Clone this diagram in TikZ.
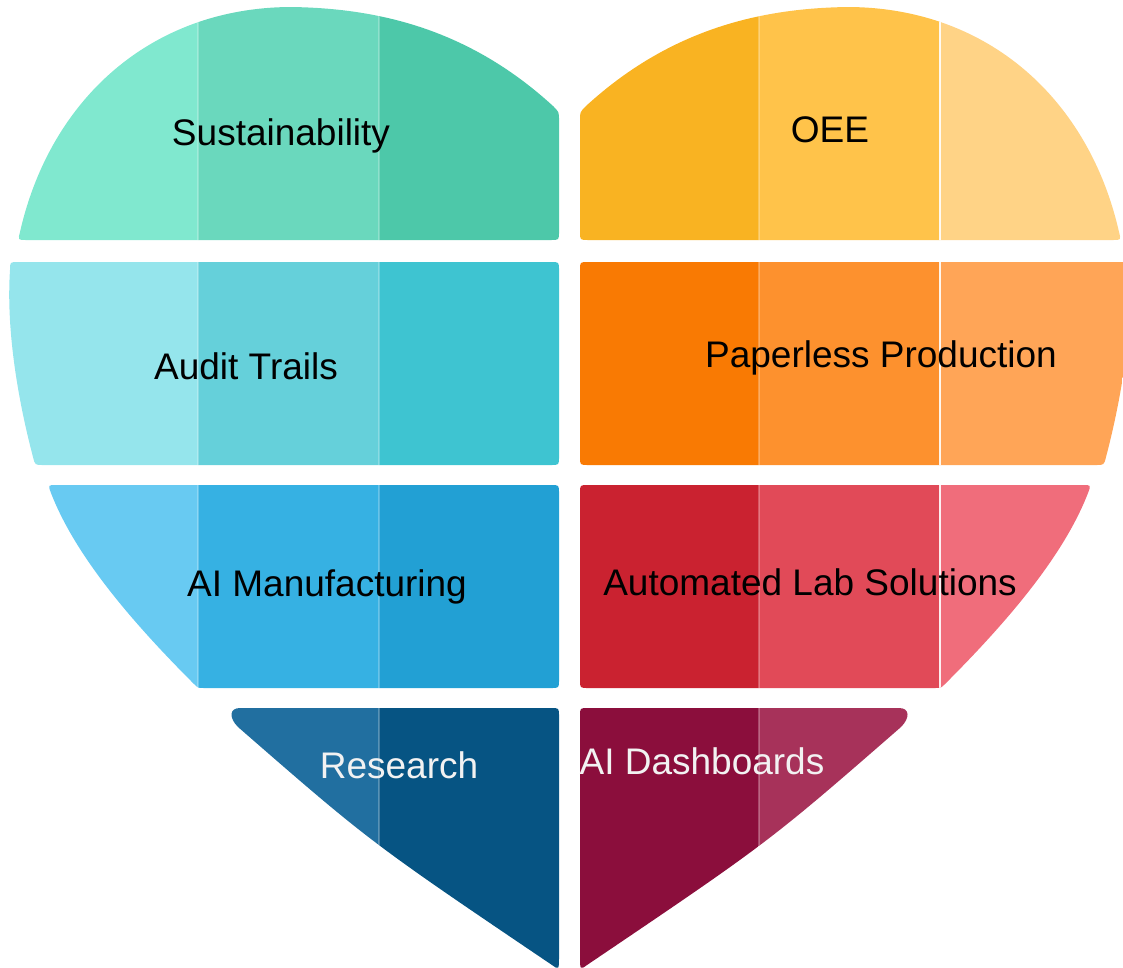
\documentclass[tikz,border=0pt]{standalone}
\usepackage{fontspec}
\setmainfont{Liberation Sans}
\definecolor{tealA}{HTML}{80E8CF}
\definecolor{tealB}{HTML}{6AD8BD}
\definecolor{tealC}{HTML}{4DC8A9}
\definecolor{goldA}{HTML}{F9B322}
\definecolor{goldB}{HTML}{FFC34A}
\definecolor{goldC}{HTML}{FFD386}
\definecolor{cyanA}{HTML}{95E5EC}
\definecolor{cyanB}{HTML}{65D0DA}
\definecolor{cyanC}{HTML}{3EC4D1}
\definecolor{orangeA}{HTML}{F97A03}
\definecolor{orangeB}{HTML}{FD912E}
\definecolor{orangeC}{HTML}{FFA557}
\definecolor{skyA}{HTML}{68CAF2}
\definecolor{skyB}{HTML}{36B1E3}
\definecolor{skyC}{HTML}{22A0D4}
\definecolor{redA}{HTML}{CA2230}
\definecolor{redB}{HTML}{E14A58}
\definecolor{redC}{HTML}{F06D7B}
\definecolor{navyA}{HTML}{216FA0}
\definecolor{navyB}{HTML}{065483}
\definecolor{wineA}{HTML}{8B0E3C}
\definecolor{wineB}{HTML}{A7325A}
\tikzset{
  piece label/.style={font=\fontsize{27.75}{33}\selectfont, anchor=base, inner sep=0pt},
  strip line/.style={white, opacity=0.25, line width=1},
  strip line strong/.style={white, opacity=0.9, line width=1.2},
}
\begin{document}
\begin{tikzpicture}[x=0.75pt, y=-0.75pt]
	\useasboundingbox (0,0) rectangle (1123,967);
	% left lobe, top
	\begin{scope}
		\clip (300,240) -- (551,240) .. controls (559,240) .. (559,232) -- (559,120) .. controls (559,112) .. (553,106)
			.. controls (470,30) and (380,8) .. (290,7) .. controls (150,8) and (50,100) .. (20,232) .. controls (18,240) .. (26,240) -- cycle;
		\fill[tealA] (0,0) rectangle (198,250);
		\fill[tealB] (198,0) rectangle (379,250);
		\fill[tealC] (379,0) rectangle (560,250);
		\draw[strip line] (198,0) -- (198,250) (379,0) -- (379,250);
	\end{scope}
	% right lobe, top
	\begin{scope}
		\clip (839,240) -- (588,240) .. controls (580,240) .. (580,232) -- (580,120) .. controls (580,112) .. (586,106)
			.. controls (669,30) and (759,8) .. (849,7) .. controls (989,8) and (1089,100) .. (1119,232) .. controls (1121,240) .. (1113,240) -- cycle;
		\fill[goldA] (579,0) rectangle (759,250);
		\fill[goldB] (759,0) rectangle (940,250);
		\fill[goldC] (940,0) rectangle (1130,250);
		\draw[strip line] (759,0) -- (759,250);
		\draw[strip line strong] (940,0) -- (940,250);
	\end{scope}
	% second row
	\begin{scope}
		\clip (300,262) -- (551,262) .. controls (559,262) .. (559,270) -- (559,457) .. controls (559,465) .. (551,465) -- (43,465)
			.. controls (35,465) .. (33,457) .. controls (18,400) and (6,330) .. (10,270) .. controls (10,262) .. (18,262) -- cycle;
		\fill[cyanA] (0,255) rectangle (198,470);
		\fill[cyanB] (198,255) rectangle (379,470);
		\fill[cyanC] (379,255) rectangle (560,470);
		\draw[strip line] (198,255) -- (198,470) (379,255) -- (379,470);
	\end{scope}
	\begin{scope}
		\clip (839,262) -- (588,262) .. controls (580,262) .. (580,270) -- (580,457) .. controls (580,465) .. (588,465) -- (1096,465)
			.. controls (1104,465) .. (1106,457) .. controls (1121,400) and (1133,330) .. (1129,270) .. controls (1129,262) .. (1121,262) -- cycle;
		\fill[orangeA] (579,255) rectangle (759,470);
		\fill[orangeB] (759,255) rectangle (940,470);
		\fill[orangeC] (940,255) rectangle (1140,470);
		\draw[strip line] (759,255) -- (759,470);
		\draw[strip line strong] (940,255) -- (940,470);
	\end{scope}
	% third row
	\begin{scope}
		\clip (300,485) -- (551,485) .. controls (559,485) .. (559,493) -- (559,680) .. controls (559,688) .. (551,688) -- (204,688)
			.. controls (198,688) .. (194,684) .. controls (130,620) and (75,555) .. (51,493) .. controls (48,485) .. (56,485) -- cycle;
		\fill[skyA] (0,480) rectangle (198,695);
		\fill[skyB] (198,480) rectangle (379,695);
		\fill[skyC] (379,480) rectangle (560,695);
		\draw[strip line] (198,480) -- (198,695) (379,480) -- (379,695);
	\end{scope}
	\begin{scope}
		\clip (839,485) -- (588,485) .. controls (580,485) .. (580,493) -- (580,680) .. controls (580,688) .. (588,688) -- (935,688)
			.. controls (941,688) .. (945,684) .. controls (1009,620) and (1064,555) .. (1088,493) .. controls (1091,485) .. (1083,485) -- cycle;
		\fill[redA] (579,480) rectangle (759,695);
		\fill[redB] (759,480) rectangle (940,695);
		\fill[redC] (940,480) rectangle (1100,695);
		\draw[strip line] (759,480) -- (759,695);
		\draw[strip line strong] (940,480) -- (940,695);
	\end{scope}
	% bottom row
	\begin{scope}
		\clip (400,708) -- (551,708) .. controls (559,708) .. (559,716) -- (559,956) .. controls (559,970) .. (552,965)
			.. controls (370,842) .. (238,727) .. controls (229,718) and (229,708) .. (240,708) -- cycle;
		\fill[navyA] (220,700) rectangle (379,970);
		\fill[navyB] (379,700) rectangle (560,970);
		\draw[strip line] (379,700) -- (379,970);
	\end{scope}
	\begin{scope}
		\clip (739,708) -- (588,708) .. controls (580,708) .. (580,716) -- (580,956) .. controls (580,970) .. (587,965)
			.. controls (769,842) .. (901,727) .. controls (910,718) and (910,708) .. (899,708) -- cycle;
		\fill[wineA] (579,700) rectangle (759,970);
		\fill[wineB] (759,700) rectangle (920,970);
		\draw[strip line] (759,700) -- (759,970);
	\end{scope}
	% labels
	\node[piece label] (sustain) at (281,145) {Sustainability};
	\node[piece label] (oee) at (830,142) {OEE};
	\node[piece label] (audit) at (246,379) {Audit Trails};
	\node[piece label] (paperless) at (881,367) {Paperless Production};
	\node[piece label] (aimanu) at (327,596) {AI Manufacturing};
	\node[piece label] (autolab) at (810,595) {Automated Lab Solutions};
	\node[piece label, white!95!black] (research) at (399,778) {Research};
	\node[piece label, white!95!black] (dashboards) at (702,774) {AI Dashboards};
\end{tikzpicture}
\end{document}
